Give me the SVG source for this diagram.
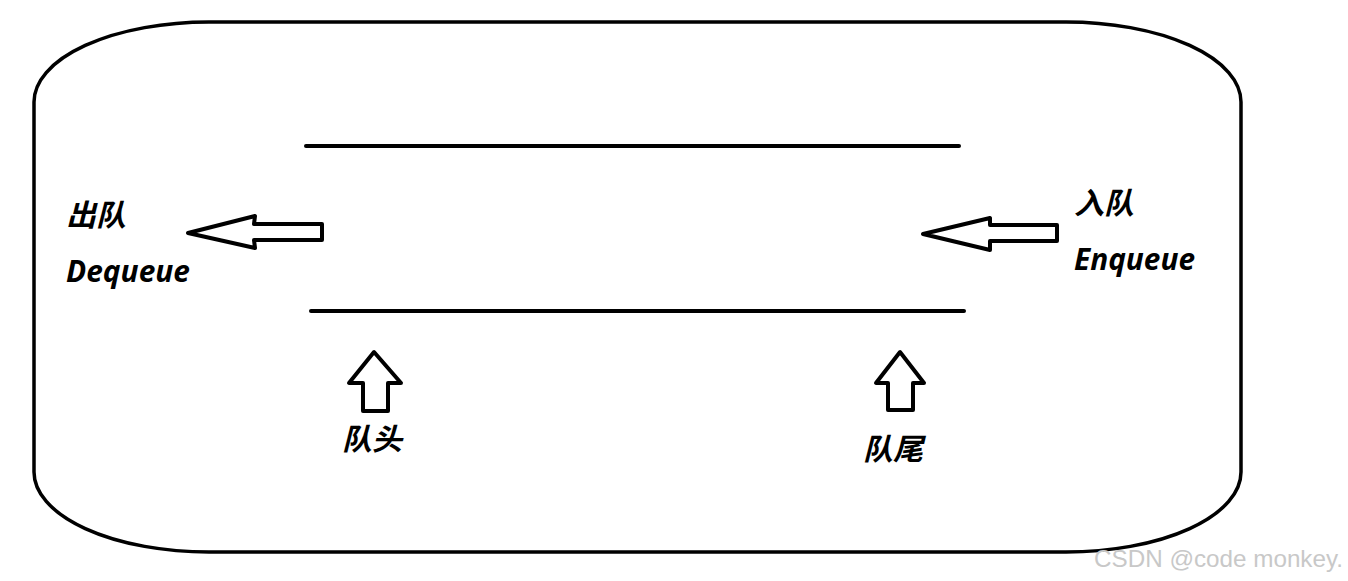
<svg xmlns="http://www.w3.org/2000/svg" width="1348" height="581" viewBox="0 0 1348 581">
<style>
.ln{stroke:#000;stroke-width:4;fill:none;stroke-linecap:round}
.ar{stroke:#000;stroke-width:4;fill:#fff;stroke-linejoin:round}
.lb{font-family:"Noto Sans","Noto Sans CJK SC",sans-serif;font-weight:bold;font-style:italic;font-size:30px;fill:#000}
.cj{font-family:"Noto Sans CJK SC",sans-serif;font-weight:bold;font-style:italic;font-size:30px;fill:#000}
.wm{font-family:"Liberation Sans",Arial,sans-serif;font-size:24px;fill:#c8c8c8}
</style>
<rect width="1348" height="581" fill="#fff"/>
<g id="container">
<rect x="34" y="22" width="1207" height="530" rx="175" ry="80" fill="none" stroke="#000" stroke-width="3.5"/>
</g>
<g id="queue">
<line class="ln" x1="306" y1="146" x2="959" y2="146"/>
<line class="ln" x1="311" y1="311" x2="964" y2="311"/>
</g>
<g id="connectors">
<polygon class="ar" points="188,233 255,216 254,224 322,224 322,240 254,240 255,248"/>
<polygon class="ar" points="923,234 990,218 990,225 1057,225 1057,241 990,241 990,250"/>
<polygon class="ar" points="374,352 349,383 363,383 363,411 388,411 388,383 401,383"/>
<polygon class="ar" points="900,352 876,383 888,383 888,410 913,410 913,383 924,383"/>
</g>
<g id="dequeue">
<text class="cj" x="66" y="226">出队</text>
<text class="lb" x="66" y="282" textLength="124" lengthAdjust="spacingAndGlyphs">Dequeue</text>
</g>
<g id="enqueue">
<text class="cj" x="1074" y="214">入队</text>
<text class="lb" x="1074" y="270" textLength="121" lengthAdjust="spacingAndGlyphs">Enqueue</text>
</g>
<g id="head"><text class="cj" x="342" y="450">队头</text></g>
<g id="tail"><text class="cj" x="863" y="460">队尾</text></g>
<text class="wm" x="1094" y="567" textLength="249" lengthAdjust="spacingAndGlyphs">CSDN @code monkey.</text>
</svg>
